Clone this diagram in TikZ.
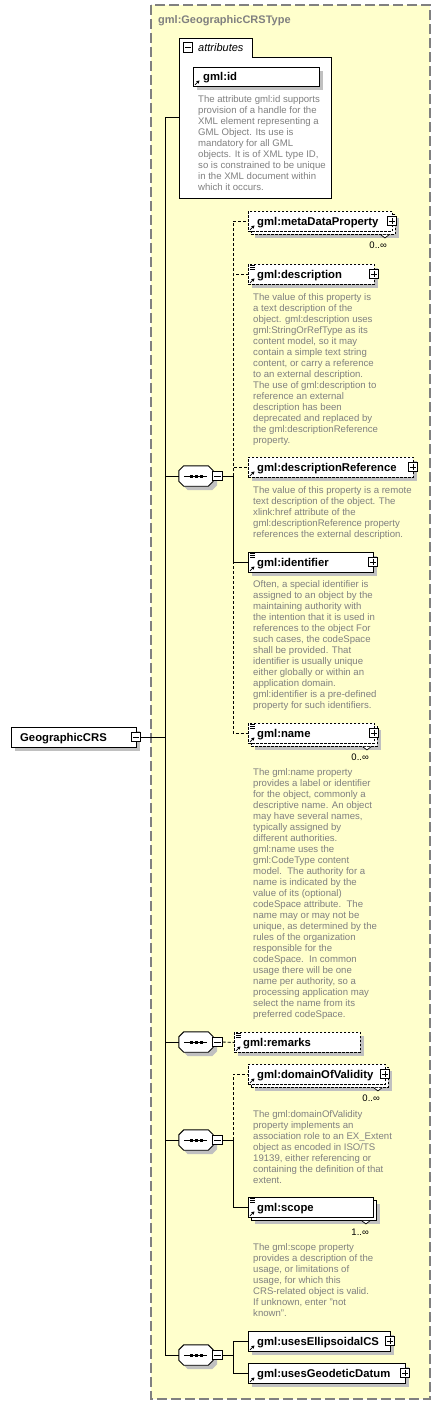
\documentclass[tikz,border=0pt]{standalone}
\usepackage{fontspec}
\setmainfont{Liberation Sans}
\usetikzlibrary{shadows,arrows.meta}
\definecolor{bgyellow}{RGB}{255,255,204}
\definecolor{docgray}{RGB}{128,128,128}
\definecolor{shadowgray}{RGB}{192,192,192}
\definecolor{framegray}{RGB}{128,128,128}
\tikzset{
  conn/.style={line width=0.9pt},
  optconn/.style={line width=0.9pt, dash pattern=on 3pt off 2pt},
  box/.style={draw, fill=white, line width=0.9pt, inner sep=0pt, anchor=north west, minimum height=20pt},
  optbox/.style={box, dash pattern=on 2.5pt off 1.5pt},
  shad/.style={drop shadow={shadow xshift=4pt, shadow yshift=-4pt, fill=shadowgray, opacity=1}},
  elabel/.style={anchor=base west, inner sep=0pt, font=\bfseries\fontsize{11.3}{13}\selectfont},
  doc/.style={anchor=north west, inner sep=0pt, align=left, text=docgray, font=\fontsize{9.6}{11}\selectfont},
  mult/.style={anchor=base east, inner sep=0pt, font=\fontsize{9.5}{11}\selectfont},
  sqbox/.style={draw, fill=white, line width=0.8pt, minimum size=9.5pt, inner sep=0pt},
  seqnode/.style={inner sep=0pt, minimum width=34pt, minimum height=20pt},
}
\newcommand\plusmark[1]{\draw[line width=0.8pt] ([xshift=2pt]#1.west) -- ([xshift=-2pt]#1.east) ([yshift=-2pt]#1.north) -- ([yshift=2pt]#1.south);}
\newcommand\minusmark[1]{\draw[line width=0.8pt] ([xshift=2pt]#1.west) -- ([xshift=-2pt]#1.east);}
\newcommand\refarrow[1]{\draw[line width=0.8pt, -{Triangle[length=3pt,width=3.2pt]}] ([xshift=2pt,yshift=2pt]#1.south west) -- ++(4.5,-4.5);}
\newcommand\docicon[1]{\draw[line width=0.6pt] ([xshift=2pt,yshift=-1.5pt]#1.north west) -- ++(5,0) ([xshift=2pt,yshift=-3.5pt]#1.north west) -- ++(5,0) ([xshift=2pt,yshift=-5.5pt]#1.north west) -- ++(5,0);}
\newcommand\notch[1]{\draw[line width=0.7pt, fill=white] ([xshift=-15pt]#1.south east) -- ++(4,3) -- ++(4,-3);}
\newcommand\octpath[1]{([xshift=5pt]#1.north west) -- ([xshift=-5pt]#1.north east) -- ([yshift=-5pt]#1.north east) -- ([yshift=5pt]#1.south east) -- ([xshift=-5pt]#1.south east) -- ([xshift=5pt]#1.south west) -- ([yshift=5pt]#1.south west) -- ([yshift=-5pt]#1.north west) -- cycle}
\newcommand\seqshape[1]{%
  \begin{scope}[transform canvas={xshift=4pt,yshift=-4pt}]\fill[shadowgray] \octpath{#1};\end{scope}
  \draw[line width=0.9pt, fill=white] \octpath{#1};
  \draw[line width=0.9pt] ([xshift=-12pt]#1.center) -- ([xshift=11pt]#1.center);
  \foreach \dx in {-5,0,5} {\fill ([xshift=\dx pt]#1.center) ++(-1.5,-1.5) rectangle ++(3,3);}}
\begin{document}
\begin{tikzpicture}[x=1pt,y=-1pt]
\path[use as bounding box] (0,0) rectangle (441,1405);
\fill[white] (0,0) rectangle (441,1405);
% type frame
\draw[draw=framegray, fill=bgyellow, line width=1.4pt, dash pattern=on 10pt off 4pt] (151,5) rectangle (430,1399);
\node[anchor=base west, inner sep=0pt, text=framegray, font=\bfseries\fontsize{11}{13}\selectfont] (title) at (158,24) {gml:GeographicCRSType};

% attributes group
\draw[conn, fill=white] (179,198) -- (179,38) -- (252,38) -- (252,57) -- (331,57) -- (331,198) -- cycle;
\node[sqbox] (attrm) at (188,47.5) {}; \minusmark{attrm}
\node[anchor=base west, inner sep=0pt, font=\itshape\fontsize{11}{13}\selectfont] (attrlabel) at (198,51.5) {attributes};
\coordinate (attrin) at (179,117);
\node[box, shad, minimum width=126pt, minimum height=19pt] (gmlid) at (193,67) {};
\node[elabel] (gmlidl) at (203,80.5) {gml:id};
\refarrow{gmlid}
\node[doc] (gmliddoc) at (198,95.7) {The attribute gml:id supports\\provision of a handle for the\\XML element representing a\\GML Object. Its use is\\mandatory for all GML\\objects. It is of XML type ID,\\so is constrained to be unique\\in the XML document within\\which it occurs.};

% root element
\node[box, shad, minimum width=125pt] (root) at (11,727) {};
\node[elabel] (rootl) at (20,741) {GeographicCRS};
\node[sqbox] (rootm) at (136,737) {}; \minusmark{rootm}
\coordinate (bus) at (165,737);

% sequence 1
\node[seqnode] (s1) at (196,476) {}; \seqshape{s1}
\node[sqbox] (s1m) at (217.5,476) {}; \minusmark{s1m}
\coordinate (b1) at (233,476);

\node[optbox, shad, minimum width=144pt] (metaB) at (251,214) {};
\node[optbox, minimum width=144pt] (meta) at (248,211) {};
\node[elabel] (metal) at (257,225) {gml:metaDataProperty};
\refarrow{meta}
\notch{metaB}
\node[sqbox] (metap) at (392,221) {}; \plusmark{metap}
\node[mult] (metam) at (387,248) {0..∞};

\node[optbox, shad, minimum width=126pt] (descr) at (248,264) {};
\node[elabel] (descrl) at (257,278) {gml:description};
\refarrow{descr} \docicon{descr}
\node[sqbox] (descrp) at (374,274) {}; \plusmark{descrp}
\node[doc] (descrdoc) at (253,293.7) {The value of this property is\\a text description of the\\object. gml:description uses\\gml:StringOrRefType as its\\content model, so it may\\contain a simple text string\\content, or carry a reference\\to an external description.\\The use of gml:description to\\reference an external\\description has been\\deprecated and replaced by\\the gml:descriptionReference\\property.};

\node[optbox, shad, minimum width=165pt] (dref) at (248,457) {};
\node[elabel] (drefl) at (257,471) {gml:descriptionReference};
\refarrow{dref}
\node[sqbox] (drefp) at (413,467) {}; \plusmark{drefp}
\node[doc] (drefdoc) at (253,486.7) {The value of this property is a remote\\text description of the object. The\\xlink:href attribute of the\\gml:descriptionReference property\\references the external description.};

\node[box, shad, minimum width=125pt] (ident) at (248,552) {};
\node[elabel] (identl) at (257,566) {gml:identifier};
\refarrow{ident} \docicon{ident}
\node[sqbox] (identp) at (373,562) {}; \plusmark{identp}
\node[doc] (identdoc) at (253,580.7) {Often, a special identifier is\\assigned to an object by the\\maintaining authority with\\the intention that it is used in\\references to the object For\\such cases, the codeSpace\\shall be provided. That\\identifier is usually unique\\either globally or within an\\application domain.\\gml:identifier is a pre-defined\\property for such identifiers.};

\node[optbox, shad, minimum width=126pt] (nameB) at (251,726) {};
\node[optbox, minimum width=126pt] (name) at (248,723) {};
\node[elabel] (namel) at (257,737) {gml:name};
\refarrow{name} \docicon{name}
\notch{nameB}
\node[sqbox] (namep) at (374,733) {}; \plusmark{namep}
\node[mult] (namem) at (369,760) {0..∞};
\node[doc] (namedoc) at (253,768.7) {The gml:name property\\provides a label or identifier\\for the object, commonly a\\descriptive name. An object\\may have several names,\\typically assigned by\\different authorities.\\gml:name uses the\\gml:CodeType content\\model.\ \ The authority for a\\name is indicated by the\\value of its (optional)\\codeSpace attribute.\ \ The\\name may or may not be\\unique, as determined by the\\rules of the organization\\responsible for the\\codeSpace.\ \ In common\\usage there will be one\\name per authority, so a\\processing application may\\select the name from its\\preferred codeSpace.};

% sequence 2
\node[seqnode] (s2) at (196,1042) {}; \seqshape{s2}
\node[sqbox] (s2m) at (217.5,1042) {}; \minusmark{s2m}
\node[optbox, shad, minimum width=126pt] (remarks) at (234,1032) {};
\node[elabel] (remarksl) at (243,1046) {gml:remarks};
\refarrow{remarks} \docicon{remarks}

% sequence 3
\node[seqnode] (s3) at (196,1140) {}; \seqshape{s3}
\node[sqbox] (s3m) at (217.5,1140) {}; \minusmark{s3m}
\coordinate (b3) at (233,1140);
\node[optbox, shad, minimum width=137pt] (dovB) at (251,1067) {};
\node[optbox, minimum width=137pt] (dov) at (248,1064) {};
\node[elabel] (dovl) at (257,1078) {gml:domainOfValidity};
\refarrow{dov}
\notch{dovB}
\node[sqbox] (dovp) at (385,1074) {}; \plusmark{dovp}
\node[mult] (dovm) at (380,1101) {0..∞};
\node[doc] (dovdoc) at (253,1110.7) {The gml:domainOfValidity\\property implements an\\association role to an EX\_Extent\\object as encoded in ISO/TS\\19139, either referencing or\\containing the definition of that\\extent.};

\node[box, shad, minimum width=125pt] (scopeB) at (251,1200) {};
\node[box, minimum width=125pt] (scope) at (248,1197) {};
\node[elabel] (scopel) at (257,1211) {gml:scope};
\refarrow{scope} \docicon{scope}
\notch{scopeB}
\node[mult] (scopem) at (369,1235) {1..∞};
\node[doc] (scopedoc) at (253,1243.7) {The gml:scope property\\provides a description of the\\usage, or limitations of\\usage, for which this\\CRS-related object is valid.\\If unknown, enter "not\\known".};

% sequence 4
\node[seqnode] (s4) at (196,1355) {}; \seqshape{s4}
\node[sqbox] (s4m) at (217.5,1355) {}; \minusmark{s4m}
\coordinate (b4) at (233,1355);
\node[box, shad, minimum width=142pt] (ellip) at (248,1331) {};
\node[elabel] (ellipl) at (257,1345) {gml:usesEllipsoidalCS};
\refarrow{ellip}
\node[sqbox] (ellipp) at (390,1341) {}; \plusmark{ellipp}
\node[box, shad, minimum width=157pt] (datum) at (248,1363) {};
\node[elabel] (datuml) at (257,1377) {gml:usesGeodeticDatum};
\refarrow{datum}
\node[sqbox] (datump) at (405,1373) {}; \plusmark{datump}

% connectors
\draw[conn] (rootm.east) -- (bus);
\draw[conn] (bus) |- (attrin);
\draw[conn] (bus) |- (s1.west);
\draw[conn] (bus) |- (s2.west);
\draw[conn] (bus) |- (s3.west);
\draw[conn] (bus) |- (s4.west);
\draw[conn] (s1m.east) -- (b1);
\draw[optconn] (b1) |- (meta.west);
\draw[optconn] (b1) |- (descr.west);
\draw[optconn] (b1) |- (dref.west);
\draw[optconn] (b1) |- (name.west);
\draw[conn] (b1) |- (ident.west);
\draw[optconn] (s2m.east) -- (remarks.west);
\draw[conn] (s3m.east) -- (b3);
\draw[optconn] (b3) |- (dov.west);
\draw[conn] (b3) |- (scope.west);
\draw[conn] (s4m.east) -- (b4);
\draw[conn] (b4) |- (ellip.west);
\draw[conn] (b4) |- (datum.west);
\end{tikzpicture}
\end{document}
